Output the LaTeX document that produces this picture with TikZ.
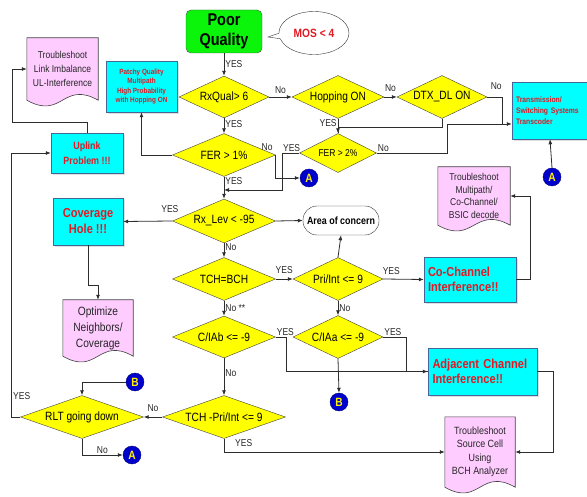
\documentclass[tikz,border=0pt]{standalone}
\usepackage{fontspec}
\setmainfont{Liberation Sans}[FakeStretch=0.85]
\usetikzlibrary{shapes.geometric,shapes.callouts,shadows,calc,backgrounds,arrows.meta}
\definecolor{qgreen}{RGB}{10,245,10}
\definecolor{qyellow}{RGB}{255,255,0}
\definecolor{qcyan}{RGB}{0,255,255}
\definecolor{qcyanline}{RGB}{70,100,150}
\definecolor{qpink}{RGB}{255,204,255}
\definecolor{qred}{RGB}{225,25,35}
\definecolor{qblue}{RGB}{0,0,205}
\definecolor{qline}{RGB}{45,45,45}

\tikzset{
  flow/.style={draw=qline, line width=0.8pt},
  decision/.style={diamond, draw=black!75, fill=qyellow, inner sep=0pt, aspect=2.5, font=\fontsize{12}{13}\selectfont},
  problem/.style={rectangle, draw=qcyanline, fill=qcyan, text=qred, align=center,
    drop shadow={shadow xshift=2pt, shadow yshift=-2pt, fill=black!25}},
  docbox/.style={rectangle, inner sep=2pt, align=center, text=black!85},
  onpage/.style={circle, draw=qblue!60!black, fill=qblue, text=yellow, inner sep=0pt, minimum size=18pt, font=\bfseries\fontsize{12}{12}\selectfont},
  lbl/.style={font=\fontsize{10}{11}\selectfont, text=black!85, inner sep=1pt}
}

\newcommand{\docshape}[1]{%
  \begin{pgfonlayer}{background}
  \filldraw[draw=black!75, fill=qpink, line width=0.6pt] (#1.north west) -- (#1.north east) -- (#1.south east)
    .. controls ($(#1.south)+(0,-20)$) and ($(#1.south)+(0,20)$) .. (#1.south west) -- cycle;
  \end{pgfonlayer}}

\begin{document}
\begin{tikzpicture}[x=1pt, y=-1pt, >={Latex[length=5pt,width=4pt]}]
\useasboundingbox (0,0) rectangle (587,497);

% start
\node[rectangle, rounded corners=5pt, draw=black!70, fill=qgreen, minimum width=76pt, minimum height=43pt,
  align=center, font=\bfseries\fontsize{17}{20}\selectfont] (poor) at (224,31.5) {Poor\\Quality};
\node[ellipse callout, draw=black!80, fill=white, minimum width=70pt, minimum height=43pt, text=qred,
  font=\bfseries\fontsize{12}{13}\selectfont, callout absolute pointer={(268,37)}] (mos) at (314,33) {MOS < 4};

% decisions
\node[decision, minimum width=90pt, minimum height=42pt] (rxq) at (224,97) {RxQual> 6};
\node[decision, minimum width=92pt, minimum height=43pt] (hop) at (338,97) {Hopping ON};
\node[decision, minimum width=90pt, minimum height=43pt] (dtx) at (442,97) {DTX\_DL ON};
\node[decision, minimum width=103pt, minimum height=43pt] (fer1) at (224,155) {FER > 1\%};
\node[decision, minimum width=77pt, minimum height=39pt, font=\fontsize{10}{11}\selectfont] (fer2) at (338,153) {FER > 2\%};
\node[decision, minimum width=103pt, minimum height=44pt] (rxlev) at (224,221) {Rx\_Lev < -95};
\node[decision, minimum width=103pt, minimum height=43pt] (tchbch) at (224,279) {TCH=BCH};
\node[decision, minimum width=90pt, minimum height=43pt] (pri) at (338,279) {Pri/Int <= 9};
\node[decision, minimum width=103pt, minimum height=42pt] (ciab) at (224,337) {C/IAb <= -9};
\node[decision, minimum width=90pt, minimum height=43pt] (ciaa) at (338,337) {C/IAa <= -9};
\node[decision, minimum width=123pt, minimum height=43pt] (tchp) at (224,417) {TCH -Pri/Int <= 9};
\node[decision, minimum width=123pt, minimum height=43pt] (rlt) at (82,417) {RLT going down};

% problems
\node[problem, minimum width=71pt, minimum height=51pt, font=\bfseries\fontsize{7.5}{9.5}\selectfont] (patchy) at (141.5,86.5)
  {Patchy Quality\\Multipath\\High Probability\\with Hopping ON};
\node[problem, minimum width=75pt, minimum height=57pt, text width=68pt, inner xsep=4pt, align=left, font=\bfseries\fontsize{8}{11}\selectfont] (trans) at (550,110.5)
  {Transmission/\\Switching Systems\\Transcoder};
\node[problem, minimum width=72pt, minimum height=40pt, font=\bfseries\fontsize{10.5}{15}\selectfont] (uplink) at (87,153) {Uplink\\Problem !!!};
\node[problem, minimum width=70pt, minimum height=47pt, font=\bfseries\fontsize{13}{16}\selectfont] (cov) at (88,221.5) {Coverage\\Hole !!!};
\node[problem, minimum width=92pt, minimum height=45pt, text width=84pt, align=left, font=\bfseries\fontsize{13}{15}\selectfont] (cochan) at (470,279.5)
  {Co-Channel\\Interference!!};
\node[problem, minimum width=109pt, minimum height=47pt, text width=100pt, align=left, font=\bfseries\fontsize{13}{15}\selectfont] (adj) at (482.5,371.5)
  {Adjacent Channel\\Interference!!};
\node[rectangle, rounded corners=14pt, draw=black!80, fill=white, minimum width=76pt, minimum height=29pt,
  font=\bfseries\fontsize{10.5}{12}\selectfont] (area) at (341,220.5) {Area of concern};

% documents
\node[docbox, minimum width=71pt, minimum height=62pt, font=\fontsize{10}{14}\selectfont] (linkdoc) at (62.5,69) {Troubleshoot\\Link Imbalance\\UL-Interference};
\node[docbox, minimum width=72pt, minimum height=58pt, font=\fontsize{10}{12.5}\selectfont] (mpdoc) at (474,196) {Troubleshoot\\Multipath/\\Co-Channel/\\BSIC decode};
\node[docbox, minimum width=70pt, minimum height=56pt, font=\fontsize{12}{16}\selectfont] (optdoc) at (98,328) {Optimize\\Neighbors/\\Coverage};
\node[docbox, minimum width=70pt, minimum height=70pt, font=\fontsize{10.5}{13.5}\selectfont] (srcdoc) at (480,452) {Troubleshoot\\Source Cell\\Using\\BCH Analyzer};
\docshape{linkdoc}
\docshape{mpdoc}
\docshape{optdoc}
\docshape{srcdoc}

% on-page connectors
\node[onpage] (a1) at (309,178) {A};
\node[onpage] (a2) at (552,177) {A};
\node[onpage] (a3) at (132,455) {A};
\node[onpage] (b1) at (135,382) {B};
\node[onpage] (b2) at (339,402) {B};

% flow
\draw[flow,->] (poor) -- node[lbl, right, pos=0.5] {YES} (rxq);
\draw[flow,->] (rxq.east) -- node[lbl, above=2pt] {No} (hop.west);
\draw[flow,->] (hop.east) -- node[lbl, above=4pt] {No} (dtx.west);
\draw[flow] (dtx.east) -- node[lbl, above=6pt, pos=0.6] {No} ++(15,0) -- ++(0,27);
\draw[flow,->] (hop.south) -- node[lbl, left, pos=0.3] {YES} (fer2.north);
\draw[flow] (dtx.south) -- ++(0,9) -| (fer2.north);
\draw[flow,->] (fer2.east) -- ++(70.5,0) |- ($(trans.west)+(0,13.5)$);
\node[lbl, anchor=south west] at (fer2.east) {No};
\draw[flow,->] (fer2.west) -- ++(-16.5,0) |- ($(fer1.south)!0.6!(rxlev.north)$);
\node[lbl, anchor=south east] at ([xshift=2pt]fer2.west) {YES};
\draw[flow,->] (rxq.south) -- node[lbl, right, pos=0.4] {YES} (fer1.north);
\draw[flow,->] (fer1.west) -| (patchy.south);
\draw[flow,->] (fer1.east) |- (a1.west);
\node[lbl, anchor=south east] at ([xshift=-2pt,yshift=3pt]fer1.east) {No};
\draw[flow,->] (fer1.south) -- node[lbl, right, pos=0.2] {YES} (rxlev.north);
\draw[flow,->] (rxlev.west) -- node[lbl, above=7pt, pos=0.05] {YES} (cov.east);
\draw[flow,->] (rxlev.east) -- (area.west);
\draw[flow,->] (rxlev.south) -- node[lbl, right, pos=0.3] {No} (tchbch.north);
\draw[flow,->] (tchbch.east) -- node[lbl, above=4pt] {YES} (pri.west);
\draw[flow,->] (pri.north) -- (area.south);
\draw[flow,->] (pri.east) -- node[lbl, above=3pt, pos=0.2] {YES} (cochan.west);
\draw[flow,->] (pri.south) -- node[lbl, right] {No} (ciaa.north);
\draw[flow,->] (tchbch.south) -- node[lbl, right] {No **} (ciab.north);
\draw[flow,->] (ciab.east) -- ++(11,0) |- (adj.west);
\node[lbl, anchor=south west] at (ciab.east) {YES};
\draw[flow] (ciaa.east) -- ++(23,0) |- (adj.west);
\node[lbl, anchor=south west] at (ciaa.east) {YES};
\draw[flow,->] (ciaa.south) -- (b2.north);
\draw[flow,->] (ciab.south) -- node[lbl, right, pos=0.4] {No} (tchp.north);
\draw[flow,->] (tchp.west) -- node[lbl, above=4pt] {No} (rlt.east);
\draw[flow,->] (tchp.south) |- (srcdoc.west);
\node[lbl, anchor=north west] at ([xshift=10pt]tchp.south) {YES};
\draw[flow,->] (adj.east) -- ++(16,0) |- (srcdoc.east);
\draw[flow,->] (cochan.east) -- ++(14,0) |- (mpdoc.east);
\draw[flow,->] (a2.north) -- (trans.south);
\draw[flow,->] (b1.west) -| (rlt.north);
\draw[flow,->] (rlt.south) |- node[lbl, above, pos=0.75] {No} (a3.west);
\draw[flow,->] (rlt.west) -- ++(-8.5,0) |- node[lbl, right, pos=0.04] {YES} (uplink.west);
\draw[flow,->] (uplink.north) -- ++(0,-10) -- ++(-75,0) |- (linkdoc.west);
\draw[flow,->] (cov.south) -- ++(0,40) -| (optdoc.north);

\end{tikzpicture}
\end{document}
